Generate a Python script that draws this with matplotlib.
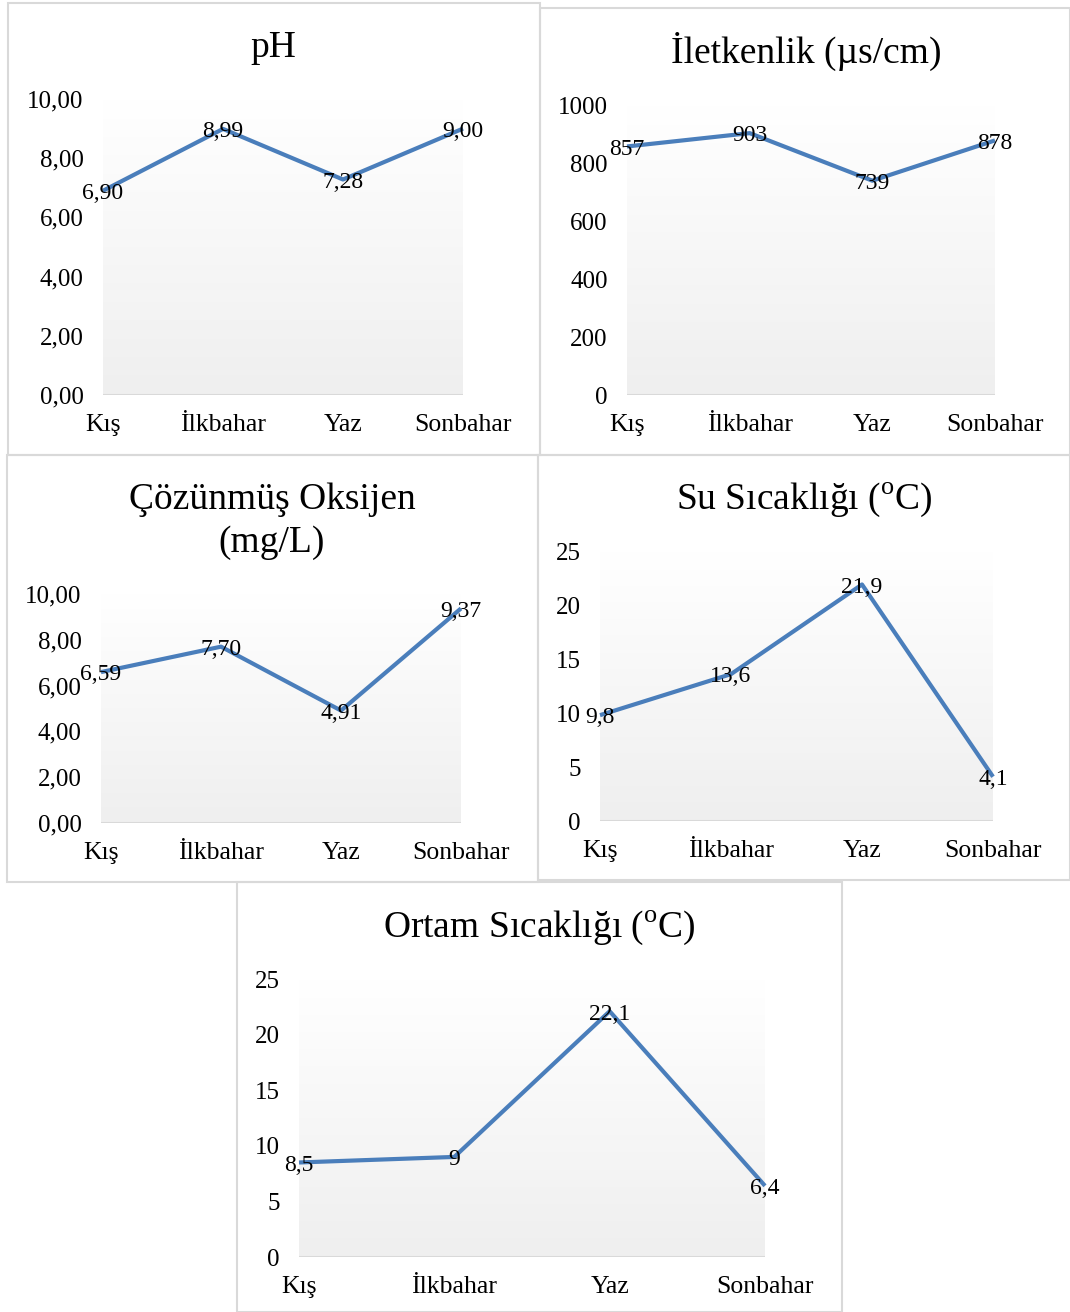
import numpy as np
import matplotlib
matplotlib.use('Agg')
import matplotlib.pyplot as plt
from matplotlib.colors import LinearSegmentedColormap

plt.rcParams['font.family'] = ['Liberation Serif', 'DejaVu Serif']
plt.rcParams['mathtext.fontset'] = 'custom'
plt.rcParams['mathtext.rm'] = 'Liberation Serif'

# data
seasons = ['Kış', 'İlkbahar', 'Yaz', 'Sonbahar']
ph = [6.90, 8.99, 7.28, 9.00]
iletkenlik = [857, 903, 739, 878]
oksijen = [6.59, 7.70, 4.91, 9.37]
su_sicaklik = [9.8, 13.6, 21.9, 4.1]
ortam_sicaklik = [8.5, 9, 22.1, 6.4]

W, H = 1070, 1312
fig = plt.figure(figsize=(W/100, H/100), dpi=100)
fig.patch.set_facecolor('white')

LINE = '#4a7ebb'
grad_cmap = LinearSegmentedColormap.from_list('g', ['#efefef', '#ffffff'])


def fmt2(v):
	return ('%.2f' % v).replace('.', ',')

def fmtint(v):
	return '%d' % v

def fmtg(v):
	return ('%g' % v).replace('.', ',')


def border(x0, y0, x1, y1):
	r = plt.Rectangle((x0/W, 1-y1/H), (x1-x0)/W, (y1-y0)/H, transform=fig.transFigure,
					  fill=False, edgecolor='#d9d9d9', lw=1.5)
	fig.add_artist(r)


def panel(vals, x0, x1, ytop, ybot, ymax, step, yfmt, lfmt, title, tx, ty):
	ax = fig.add_axes([x0/W, 1-ybot/H, (x1-x0)/W, (ybot-ytop)/H])
	x = np.arange(len(seasons))
	ax.set_xlim(0, len(seasons)-1)
	ax.set_ylim(0, ymax)
	grad = np.linspace(0, 1, 100).reshape(-1, 1)
	ax.imshow(grad, extent=[0, len(seasons)-1, 0, ymax], origin='lower', aspect='auto',
			  cmap=grad_cmap, zorder=0)
	ax.plot(x, vals, color=LINE, lw=3, clip_on=False, zorder=3, solid_capstyle='butt')
	for xi, v in zip(x, vals):
		ax.annotate(lfmt(v), (xi, v), xytext=(0, -2), textcoords='offset points',
					ha='center', va='center', fontsize=17, zorder=4, annotation_clip=False)
	ax.axhline(0, color='#d9d9d9', lw=1.5, zorder=2)
	for s in ax.spines.values():
		s.set_visible(False)
	ticks = np.arange(0, ymax + step/2, step)
	ax.set_yticks(ticks)
	ax.set_yticklabels([yfmt(t) for t in ticks], fontsize=18)
	ax.set_xticks(x)
	ax.set_xticklabels(seasons, fontsize=18.5)
	ax.tick_params(axis='y', length=0, pad=14)
	ax.tick_params(axis='x', length=0, pad=14)
	fig.text(tx/W, 1-ty/H, title, ha='center', va='center', fontsize=27, linespacing=1.3)
	return ax


border(8, 3, 540, 455)
border(540, 8, 1070, 455)
border(7, 455, 538, 882)
border(538, 455, 1070, 880)
border(237, 882, 842, 1312)

panel(ph, 103, 463, 99, 395, 10, 2, fmt2, fmt2, 'pH', 273, 48)
panel(iletkenlik, 627, 995, 105, 395, 1000, 200, fmtint, fmtint, 'İletkenlik (µs/cm)', 806, 51)
panel(oksijen, 101, 461, 594, 823, 10, 2, fmt2, fmt2, 'Çözünmüş Oksijen\n(mg/L)', 272, 521)
panel(su_sicaklik, 600, 993, 551, 821, 25, 5, fmtint, fmtg, r'Su Sıcaklığı ($^{\mathrm{o}}$C)', 804, 500)
panel(ortam_sicaklik, 299, 765, 979, 1257, 25, 5, fmtint, fmtg, r'Ortam Sıcaklığı ($^{\mathrm{o}}$C)', 539, 928)

plt.savefig('out.png', dpi=100, facecolor='white')
